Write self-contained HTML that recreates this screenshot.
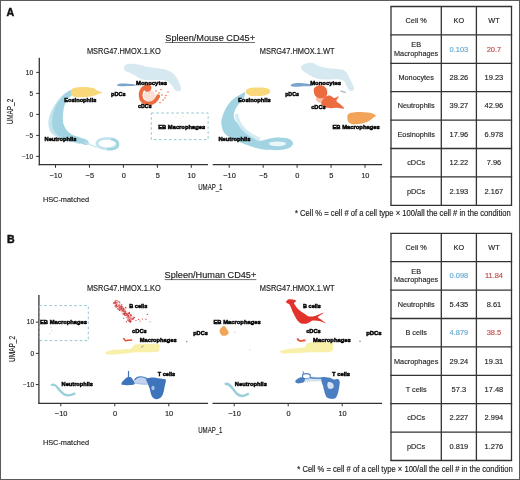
<!DOCTYPE html>
<html><head><meta charset="utf-8"><style>
html,body{margin:0;padding:0;background:#fff;width:520px;height:480px;overflow:hidden}
svg{display:block;will-change:transform}
text{font-family:"Liberation Sans", sans-serif}
</style></head><body>
<svg width="520" height="480" viewBox="0 0 520 480">
<rect width="520" height="480" fill="#fff"/>
<rect x="0.5" y="0.5" width="519" height="479" fill="none" stroke="#5a5a5a" stroke-width="1"/>
<text x="6.6" y="15.8" font-size="10.6" text-anchor="start" fill="#111" font-weight="bold" stroke="#111" stroke-width="0.45">A</text>
<text x="6.9" y="242.8" font-size="10.6" text-anchor="start" fill="#111" font-weight="bold" stroke="#111" stroke-width="0.45">B</text>
<line x1="391" y1="6.5" x2="391" y2="205.29999999999998" stroke="#333" stroke-width="1.3" />
<line x1="441.3" y1="6.5" x2="441.3" y2="205.29999999999998" stroke="#333" stroke-width="1.3" />
<line x1="476.4" y1="6.5" x2="476.4" y2="205.29999999999998" stroke="#333" stroke-width="1.3" />
<line x1="511.5" y1="6.5" x2="511.5" y2="205.29999999999998" stroke="#333" stroke-width="1.3" />
<line x1="390.35" y1="6.5" x2="512.15" y2="6.5" stroke="#333" stroke-width="1.3" />
<line x1="390.35" y1="34.9" x2="512.15" y2="34.9" stroke="#333" stroke-width="1.3" />
<line x1="390.35" y1="63.3" x2="512.15" y2="63.3" stroke="#333" stroke-width="1.3" />
<line x1="390.35" y1="91.69999999999999" x2="512.15" y2="91.69999999999999" stroke="#333" stroke-width="1.3" />
<line x1="390.35" y1="120.1" x2="512.15" y2="120.1" stroke="#333" stroke-width="1.3" />
<line x1="390.35" y1="148.5" x2="512.15" y2="148.5" stroke="#333" stroke-width="1.3" />
<line x1="390.35" y1="176.89999999999998" x2="512.15" y2="176.89999999999998" stroke="#333" stroke-width="1.3" />
<line x1="390.35" y1="205.29999999999998" x2="512.15" y2="205.29999999999998" stroke="#333" stroke-width="1.3" />
<text x="416.15" y="23.2" font-size="7.7" text-anchor="middle" fill="#262626" textLength="21.14" lengthAdjust="spacingAndGlyphs"  stroke="#262626" stroke-width="0.15">Cell %</text>
<text x="458.85" y="23.2" font-size="7.7" text-anchor="middle" fill="#262626" textLength="10.57" lengthAdjust="spacingAndGlyphs"  stroke="#262626" stroke-width="0.15">KO</text>
<text x="493.95" y="23.2" font-size="7.7" text-anchor="middle" fill="#262626" textLength="11.37" lengthAdjust="spacingAndGlyphs"  stroke="#262626" stroke-width="0.15">WT</text>
<text x="416.15" y="46.9" font-size="7.7" text-anchor="middle" fill="#262626" textLength="9.76" lengthAdjust="spacingAndGlyphs"  stroke="#262626" stroke-width="0.15">EB</text>
<text x="416.15" y="55.6" font-size="7.7" text-anchor="middle" fill="#262626" textLength="44.2" lengthAdjust="spacingAndGlyphs"  stroke="#262626" stroke-width="0.15">Macrophages</text>
<text x="458.85" y="51.6" font-size="7.7" text-anchor="middle" fill="#62a8d2" textLength="18.69" lengthAdjust="spacingAndGlyphs"  stroke="#62a8d2" stroke-width="0.15">0.103</text>
<text x="493.95" y="51.6" font-size="7.7" text-anchor="middle" fill="#c24a48" textLength="14.54" lengthAdjust="spacingAndGlyphs"  stroke="#c24a48" stroke-width="0.15">20.7</text>
<text x="416.15" y="80.0" font-size="7.7" text-anchor="middle" fill="#262626" textLength="35.37" lengthAdjust="spacingAndGlyphs"  stroke="#262626" stroke-width="0.15">Monocytes</text>
<text x="458.85" y="80.0" font-size="7.7" text-anchor="middle" fill="#262626" textLength="18.69" lengthAdjust="spacingAndGlyphs"  stroke="#262626" stroke-width="0.15">28.26</text>
<text x="493.95" y="80.0" font-size="7.7" text-anchor="middle" fill="#262626" textLength="18.69" lengthAdjust="spacingAndGlyphs"  stroke="#262626" stroke-width="0.15">19.23</text>
<text x="416.15" y="108.4" font-size="7.7" text-anchor="middle" fill="#262626" textLength="37.0" lengthAdjust="spacingAndGlyphs"  stroke="#262626" stroke-width="0.15">Neutrophils</text>
<text x="458.85" y="108.4" font-size="7.7" text-anchor="middle" fill="#262626" textLength="18.69" lengthAdjust="spacingAndGlyphs"  stroke="#262626" stroke-width="0.15">39.27</text>
<text x="493.95" y="108.4" font-size="7.7" text-anchor="middle" fill="#262626" textLength="18.69" lengthAdjust="spacingAndGlyphs"  stroke="#262626" stroke-width="0.15">42.96</text>
<text x="416.15" y="136.8" font-size="7.7" text-anchor="middle" fill="#262626" textLength="37.41" lengthAdjust="spacingAndGlyphs"  stroke="#262626" stroke-width="0.15">Eosinophils</text>
<text x="458.85" y="136.8" font-size="7.7" text-anchor="middle" fill="#262626" textLength="18.69" lengthAdjust="spacingAndGlyphs"  stroke="#262626" stroke-width="0.15">17.96</text>
<text x="493.95" y="136.8" font-size="7.7" text-anchor="middle" fill="#262626" textLength="18.69" lengthAdjust="spacingAndGlyphs"  stroke="#262626" stroke-width="0.15">6.978</text>
<text x="416.15" y="165.2" font-size="7.7" text-anchor="middle" fill="#262626" textLength="17.88" lengthAdjust="spacingAndGlyphs"  stroke="#262626" stroke-width="0.15">cDCs</text>
<text x="458.85" y="165.2" font-size="7.7" text-anchor="middle" fill="#262626" textLength="18.69" lengthAdjust="spacingAndGlyphs"  stroke="#262626" stroke-width="0.15">12.22</text>
<text x="493.95" y="165.2" font-size="7.7" text-anchor="middle" fill="#262626" textLength="14.54" lengthAdjust="spacingAndGlyphs"  stroke="#262626" stroke-width="0.15">7.96</text>
<text x="416.15" y="193.6" font-size="7.7" text-anchor="middle" fill="#262626" textLength="18.29" lengthAdjust="spacingAndGlyphs"  stroke="#262626" stroke-width="0.15">pDCs</text>
<text x="458.85" y="193.6" font-size="7.7" text-anchor="middle" fill="#262626" textLength="18.69" lengthAdjust="spacingAndGlyphs"  stroke="#262626" stroke-width="0.15">2.193</text>
<text x="493.95" y="193.6" font-size="7.7" text-anchor="middle" fill="#262626" textLength="18.69" lengthAdjust="spacingAndGlyphs"  stroke="#262626" stroke-width="0.15">2.167</text>
<line x1="391" y1="233.3" x2="391" y2="460.5" stroke="#333" stroke-width="1.3" />
<line x1="441.3" y1="233.3" x2="441.3" y2="460.5" stroke="#333" stroke-width="1.3" />
<line x1="476.4" y1="233.3" x2="476.4" y2="460.5" stroke="#333" stroke-width="1.3" />
<line x1="511.5" y1="233.3" x2="511.5" y2="460.5" stroke="#333" stroke-width="1.3" />
<line x1="390.35" y1="233.3" x2="512.15" y2="233.3" stroke="#333" stroke-width="1.3" />
<line x1="390.35" y1="261.7" x2="512.15" y2="261.7" stroke="#333" stroke-width="1.3" />
<line x1="390.35" y1="290.1" x2="512.15" y2="290.1" stroke="#333" stroke-width="1.3" />
<line x1="390.35" y1="318.5" x2="512.15" y2="318.5" stroke="#333" stroke-width="1.3" />
<line x1="390.35" y1="346.9" x2="512.15" y2="346.9" stroke="#333" stroke-width="1.3" />
<line x1="390.35" y1="375.3" x2="512.15" y2="375.3" stroke="#333" stroke-width="1.3" />
<line x1="390.35" y1="403.7" x2="512.15" y2="403.7" stroke="#333" stroke-width="1.3" />
<line x1="390.35" y1="432.1" x2="512.15" y2="432.1" stroke="#333" stroke-width="1.3" />
<line x1="390.35" y1="460.5" x2="512.15" y2="460.5" stroke="#333" stroke-width="1.3" />
<text x="416.15" y="250.0" font-size="7.7" text-anchor="middle" fill="#262626" textLength="21.14" lengthAdjust="spacingAndGlyphs"  stroke="#262626" stroke-width="0.15">Cell %</text>
<text x="458.85" y="250.0" font-size="7.7" text-anchor="middle" fill="#262626" textLength="10.57" lengthAdjust="spacingAndGlyphs"  stroke="#262626" stroke-width="0.15">KO</text>
<text x="493.95" y="250.0" font-size="7.7" text-anchor="middle" fill="#262626" textLength="11.37" lengthAdjust="spacingAndGlyphs"  stroke="#262626" stroke-width="0.15">WT</text>
<text x="416.15" y="273.7" font-size="7.7" text-anchor="middle" fill="#262626" textLength="9.76" lengthAdjust="spacingAndGlyphs"  stroke="#262626" stroke-width="0.15">EB</text>
<text x="416.15" y="282.4" font-size="7.7" text-anchor="middle" fill="#262626" textLength="44.2" lengthAdjust="spacingAndGlyphs"  stroke="#262626" stroke-width="0.15">Macrophages</text>
<text x="458.85" y="278.4" font-size="7.7" text-anchor="middle" fill="#62a8d2" textLength="18.69" lengthAdjust="spacingAndGlyphs"  stroke="#62a8d2" stroke-width="0.15">0.098</text>
<text x="493.95" y="278.4" font-size="7.7" text-anchor="middle" fill="#c24a48" textLength="18.14" lengthAdjust="spacingAndGlyphs"  stroke="#c24a48" stroke-width="0.15">11.84</text>
<text x="416.15" y="306.8" font-size="7.7" text-anchor="middle" fill="#262626" textLength="37.0" lengthAdjust="spacingAndGlyphs"  stroke="#262626" stroke-width="0.15">Neutrophils</text>
<text x="458.85" y="306.8" font-size="7.7" text-anchor="middle" fill="#262626" textLength="18.69" lengthAdjust="spacingAndGlyphs"  stroke="#262626" stroke-width="0.15">5.435</text>
<text x="493.95" y="306.8" font-size="7.7" text-anchor="middle" fill="#262626" textLength="14.54" lengthAdjust="spacingAndGlyphs"  stroke="#262626" stroke-width="0.15">8.61</text>
<text x="416.15" y="335.2" font-size="7.7" text-anchor="middle" fill="#262626" textLength="21.55" lengthAdjust="spacingAndGlyphs"  stroke="#262626" stroke-width="0.15">B cells</text>
<text x="458.85" y="335.2" font-size="7.7" text-anchor="middle" fill="#62a8d2" textLength="18.69" lengthAdjust="spacingAndGlyphs"  stroke="#62a8d2" stroke-width="0.15">4.879</text>
<text x="493.95" y="335.2" font-size="7.7" text-anchor="middle" fill="#c24a48" textLength="14.54" lengthAdjust="spacingAndGlyphs"  stroke="#c24a48" stroke-width="0.15">38.5</text>
<text x="416.15" y="363.6" font-size="7.7" text-anchor="middle" fill="#262626" textLength="44.32" lengthAdjust="spacingAndGlyphs"  stroke="#262626" stroke-width="0.15">Macrophages</text>
<text x="458.85" y="363.6" font-size="7.7" text-anchor="middle" fill="#262626" textLength="18.69" lengthAdjust="spacingAndGlyphs"  stroke="#262626" stroke-width="0.15">29.24</text>
<text x="493.95" y="363.6" font-size="7.7" text-anchor="middle" fill="#262626" textLength="18.69" lengthAdjust="spacingAndGlyphs"  stroke="#262626" stroke-width="0.15">19.31</text>
<text x="416.15" y="392.0" font-size="7.7" text-anchor="middle" fill="#262626" textLength="21.0" lengthAdjust="spacingAndGlyphs"  stroke="#262626" stroke-width="0.15">T cells</text>
<text x="458.85" y="392.0" font-size="7.7" text-anchor="middle" fill="#262626" textLength="14.54" lengthAdjust="spacingAndGlyphs"  stroke="#262626" stroke-width="0.15">57.3</text>
<text x="493.95" y="392.0" font-size="7.7" text-anchor="middle" fill="#262626" textLength="18.69" lengthAdjust="spacingAndGlyphs"  stroke="#262626" stroke-width="0.15">17.48</text>
<text x="416.15" y="420.4" font-size="7.7" text-anchor="middle" fill="#262626" textLength="17.88" lengthAdjust="spacingAndGlyphs"  stroke="#262626" stroke-width="0.15">cDCs</text>
<text x="458.85" y="420.4" font-size="7.7" text-anchor="middle" fill="#262626" textLength="18.69" lengthAdjust="spacingAndGlyphs"  stroke="#262626" stroke-width="0.15">2.227</text>
<text x="493.95" y="420.4" font-size="7.7" text-anchor="middle" fill="#262626" textLength="18.69" lengthAdjust="spacingAndGlyphs"  stroke="#262626" stroke-width="0.15">2.994</text>
<text x="416.15" y="448.8" font-size="7.7" text-anchor="middle" fill="#262626" textLength="18.29" lengthAdjust="spacingAndGlyphs"  stroke="#262626" stroke-width="0.15">pDCs</text>
<text x="458.85" y="448.8" font-size="7.7" text-anchor="middle" fill="#262626" textLength="18.69" lengthAdjust="spacingAndGlyphs"  stroke="#262626" stroke-width="0.15">0.819</text>
<text x="493.95" y="448.8" font-size="7.7" text-anchor="middle" fill="#262626" textLength="18.69" lengthAdjust="spacingAndGlyphs"  stroke="#262626" stroke-width="0.15">1.276</text>
<text x="295.0" y="216.4" font-size="8.2" text-anchor="start" fill="#222" textLength="215.8" lengthAdjust="spacingAndGlyphs"  stroke="#222" stroke-width="0.15">* Cell % = cell # of a cell type × 100/all the cell # in the condition</text>
<text x="297.3" y="471.7" font-size="8.2" text-anchor="start" fill="#222" textLength="215.5" lengthAdjust="spacingAndGlyphs"  stroke="#222" stroke-width="0.15">* Cell % = cell # of a cell type × 100/all the cell # in the condition</text>
<text x="165.3" y="41.3" font-size="9" text-anchor="start" fill="#222" textLength="89.7" lengthAdjust="spacingAndGlyphs"  stroke="#222" stroke-width="0.15">Spleen/Mouse CD45+</text>
<line x1="165.3" y1="42.5" x2="255" y2="42.5" stroke="#333" stroke-width="0.7" />
<text x="164.6" y="278.4" font-size="9" text-anchor="start" fill="#222" textLength="91.7" lengthAdjust="spacingAndGlyphs"  stroke="#222" stroke-width="0.15">Spleen/Human CD45+</text>
<line x1="164.6" y1="279.59999999999997" x2="256.3" y2="279.59999999999997" stroke="#333" stroke-width="0.7" />
<text x="86.9" y="53.8" font-size="8.2" text-anchor="start" fill="#222" textLength="73.8" lengthAdjust="spacingAndGlyphs"  stroke="#222" stroke-width="0.15">MSRG47.HMOX.1.KO</text>
<text x="259.8" y="53.8" font-size="8.2" text-anchor="start" fill="#222" textLength="74.7" lengthAdjust="spacingAndGlyphs"  stroke="#222" stroke-width="0.15">MSRG47.HMOX.1.WT</text>
<text x="86.9" y="290.7" font-size="8.2" text-anchor="start" fill="#222" textLength="73.8" lengthAdjust="spacingAndGlyphs"  stroke="#222" stroke-width="0.15">MSRG47.HMOX.1.KO</text>
<text x="259.8" y="290.7" font-size="8.2" text-anchor="start" fill="#222" textLength="74.7" lengthAdjust="spacingAndGlyphs"  stroke="#222" stroke-width="0.15">MSRG47.HMOX.1.WT</text>
<text x="42.9" y="201.7" font-size="8.0" text-anchor="start" fill="#222" textLength="46.2" lengthAdjust="spacingAndGlyphs"  stroke="#222" stroke-width="0.15">HSC-matched</text>
<text x="42.9" y="444.5" font-size="8.0" text-anchor="start" fill="#222" textLength="46.2" lengthAdjust="spacingAndGlyphs"  stroke="#222" stroke-width="0.15">HSC-matched</text>
<line x1="39.3" y1="57.8" x2="39.3" y2="165.3" stroke="#333" stroke-width="1.3" />
<line x1="38.65" y1="164.7" x2="208" y2="164.7" stroke="#333" stroke-width="1.3" />
<line x1="212.7" y1="164.7" x2="382" y2="164.7" stroke="#333" stroke-width="1.3" />
<line x1="36.2" y1="72.4" x2="39.3" y2="72.4" stroke="#333" stroke-width="1" />
<text x="33.1" y="74.7" font-size="6.5" text-anchor="end" fill="#222"  stroke="#222" stroke-width="0.15">10</text>
<line x1="36.2" y1="93.4" x2="39.3" y2="93.4" stroke="#333" stroke-width="1" />
<text x="33.1" y="95.7" font-size="6.5" text-anchor="end" fill="#222"  stroke="#222" stroke-width="0.15">5</text>
<line x1="36.2" y1="114.4" x2="39.3" y2="114.4" stroke="#333" stroke-width="1" />
<text x="33.1" y="116.7" font-size="6.5" text-anchor="end" fill="#222"  stroke="#222" stroke-width="0.15">0</text>
<line x1="36.2" y1="135.4" x2="39.3" y2="135.4" stroke="#333" stroke-width="1" />
<text x="33.1" y="137.70000000000002" font-size="6.5" text-anchor="end" fill="#222"  stroke="#222" stroke-width="0.15">−5</text>
<line x1="36.2" y1="156.4" x2="39.3" y2="156.4" stroke="#333" stroke-width="1" />
<text x="33.1" y="158.70000000000002" font-size="6.5" text-anchor="end" fill="#222"  stroke="#222" stroke-width="0.15">−10</text>
<line x1="55.5" y1="164.7" x2="55.5" y2="167.8" stroke="#333" stroke-width="1" />
<text x="55.8" y="177.6" font-size="7.4" text-anchor="middle" fill="#222"  stroke="#222" stroke-width="0.15">−10</text>
<line x1="89.45" y1="164.7" x2="89.45" y2="167.8" stroke="#333" stroke-width="1" />
<text x="89.8" y="177.6" font-size="7.4" text-anchor="middle" fill="#222"  stroke="#222" stroke-width="0.15">−5</text>
<line x1="123.4" y1="164.7" x2="123.4" y2="167.8" stroke="#333" stroke-width="1" />
<text x="123.7" y="177.6" font-size="7.4" text-anchor="middle" fill="#222"  stroke="#222" stroke-width="0.15">0</text>
<line x1="157.35000000000002" y1="164.7" x2="157.35000000000002" y2="167.8" stroke="#333" stroke-width="1" />
<text x="157.7" y="177.6" font-size="7.4" text-anchor="middle" fill="#222"  stroke="#222" stroke-width="0.15">5</text>
<line x1="191.3" y1="164.7" x2="191.3" y2="167.8" stroke="#333" stroke-width="1" />
<text x="191.6" y="177.6" font-size="7.4" text-anchor="middle" fill="#222"  stroke="#222" stroke-width="0.15">10</text>
<line x1="229.20000000000002" y1="164.7" x2="229.20000000000002" y2="167.8" stroke="#333" stroke-width="1" />
<text x="229.5" y="177.6" font-size="7.4" text-anchor="middle" fill="#222"  stroke="#222" stroke-width="0.15">−10</text>
<line x1="263.15000000000003" y1="164.7" x2="263.15000000000003" y2="167.8" stroke="#333" stroke-width="1" />
<text x="263.5" y="177.6" font-size="7.4" text-anchor="middle" fill="#222"  stroke="#222" stroke-width="0.15">−5</text>
<line x1="297.1" y1="164.7" x2="297.1" y2="167.8" stroke="#333" stroke-width="1" />
<text x="297.4" y="177.6" font-size="7.4" text-anchor="middle" fill="#222"  stroke="#222" stroke-width="0.15">0</text>
<line x1="331.05" y1="164.7" x2="331.05" y2="167.8" stroke="#333" stroke-width="1" />
<text x="331.4" y="177.6" font-size="7.4" text-anchor="middle" fill="#222"  stroke="#222" stroke-width="0.15">5</text>
<line x1="365.0" y1="164.7" x2="365.0" y2="167.8" stroke="#333" stroke-width="1" />
<text x="365.3" y="177.6" font-size="7.4" text-anchor="middle" fill="#222"  stroke="#222" stroke-width="0.15">10</text>
<text transform="translate(13.4,124.3) rotate(-90)" font-size="8.3" fill="#222" stroke="#222" stroke-width="0.15" textLength="25.5" lengthAdjust="spacingAndGlyphs">UMAP_2</text>
<text x="198.2" y="190.2" font-size="8.2" text-anchor="start" fill="#222" textLength="24.3" lengthAdjust="spacingAndGlyphs" stroke="#222" stroke-width="0.15">UMAP_1</text>
<line x1="38.9" y1="295" x2="38.9" y2="403.8" stroke="#333" stroke-width="1.3" />
<line x1="38.25" y1="403.4" x2="208" y2="403.4" stroke="#333" stroke-width="1.3" />
<line x1="212.5" y1="403.4" x2="382" y2="403.4" stroke="#333" stroke-width="1.3" />
<line x1="35.8" y1="322.1" x2="38.9" y2="322.1" stroke="#333" stroke-width="1" />
<text x="34.0" y="324.3" font-size="6.5" text-anchor="end" fill="#222"  stroke="#222" stroke-width="0.15">10</text>
<line x1="35.8" y1="353.4" x2="38.9" y2="353.4" stroke="#333" stroke-width="1" />
<text x="34.0" y="355.59999999999997" font-size="6.5" text-anchor="end" fill="#222"  stroke="#222" stroke-width="0.15">0</text>
<line x1="35.8" y1="384.6" x2="38.9" y2="384.6" stroke="#333" stroke-width="1" />
<text x="34.0" y="386.8" font-size="6.5" text-anchor="end" fill="#222"  stroke="#222" stroke-width="0.15">−10</text>
<line x1="60.8" y1="403.4" x2="60.8" y2="406.3" stroke="#333" stroke-width="1" />
<text x="61.1" y="415.8" font-size="7.4" text-anchor="middle" fill="#222"  stroke="#222" stroke-width="0.15">−10</text>
<line x1="114.8" y1="403.4" x2="114.8" y2="406.3" stroke="#333" stroke-width="1" />
<text x="115.1" y="415.8" font-size="7.4" text-anchor="middle" fill="#222"  stroke="#222" stroke-width="0.15">0</text>
<line x1="168.8" y1="403.4" x2="168.8" y2="406.3" stroke="#333" stroke-width="1" />
<text x="169.1" y="415.8" font-size="7.4" text-anchor="middle" fill="#222"  stroke="#222" stroke-width="0.15">10</text>
<line x1="234.2" y1="403.4" x2="234.2" y2="406.3" stroke="#333" stroke-width="1" />
<text x="234.5" y="415.8" font-size="7.4" text-anchor="middle" fill="#222"  stroke="#222" stroke-width="0.15">−10</text>
<line x1="288.2" y1="403.4" x2="288.2" y2="406.3" stroke="#333" stroke-width="1" />
<text x="288.5" y="415.8" font-size="7.4" text-anchor="middle" fill="#222"  stroke="#222" stroke-width="0.15">0</text>
<line x1="342.2" y1="403.4" x2="342.2" y2="406.3" stroke="#333" stroke-width="1" />
<text x="342.5" y="415.8" font-size="7.4" text-anchor="middle" fill="#222"  stroke="#222" stroke-width="0.15">10</text>
<text transform="translate(14.8,362.0) rotate(-90)" font-size="8.3" fill="#222" stroke="#222" stroke-width="0.15" textLength="26.100000000000023" lengthAdjust="spacingAndGlyphs">UMAP_2</text>
<text x="198.2" y="433.4" font-size="8.2" text-anchor="start" fill="#222" textLength="24.3" lengthAdjust="spacingAndGlyphs" stroke="#222" stroke-width="0.15">UMAP_1</text>
<path d="M124.2,66.5 C124.5,65.4 125.5,64.8 127.0,64.3 C128.5,63.8 130.8,63.7 133.0,63.8 C135.2,63.9 137.2,64.4 140.0,65.0 C142.8,65.6 146.7,66.7 150.0,67.3 C153.3,67.9 157.2,68.0 160.0,68.5 C162.8,69.0 164.7,69.1 167.0,70.0 C169.3,70.9 171.8,72.3 173.6,74.0 C175.4,75.7 176.8,77.8 178.0,80.0 C179.2,82.2 180.4,85.4 180.7,87.2 C181.0,89.0 180.9,90.5 180.0,91.0 C179.1,91.5 176.8,91.4 175.5,90.5 C174.2,89.6 173.4,87.1 171.9,85.5 C170.4,83.9 168.8,81.9 166.5,81.0 C164.2,80.1 160.8,80.1 158.0,80.0 C155.2,79.9 152.7,80.4 150.0,80.3 C147.3,80.2 144.3,80.2 142.0,79.5 C139.7,78.8 138.0,77.1 136.0,76.0 C134.0,74.9 131.8,73.7 130.0,72.8 C128.2,71.9 126.0,71.8 125.0,70.8 C124.0,69.8 123.9,67.6 124.2,66.5 Z" fill="#d6e8f0" />
<path d="M70.0,90.5 C68.7,90.8 65.9,92.5 64.0,94.0 C62.1,95.5 60.2,97.5 58.5,99.5 C56.8,101.5 55.3,103.8 54.0,106.0 C52.7,108.2 51.4,110.7 50.5,113.0 C49.6,115.3 48.9,117.7 48.6,120.0 C48.3,122.3 48.4,124.9 48.8,127.0 C49.2,129.1 49.8,130.9 51.0,132.5 C52.2,134.1 54.0,135.3 56.0,136.5 C58.0,137.7 60.3,138.9 63.0,139.8 C65.7,140.7 69.2,141.3 72.0,142.0 C74.8,142.7 78.7,144.2 80.0,144.0 C81.3,143.8 81.3,141.8 80.0,141.0 C78.7,140.2 74.7,139.8 72.0,139.0 C69.3,138.2 66.2,137.2 64.0,136.0 C61.8,134.8 60.3,133.7 59.0,132.0 C57.7,130.3 56.6,128.0 56.0,126.0 C55.4,124.0 55.4,122.2 55.5,120.0 C55.6,117.8 55.9,115.3 56.5,113.0 C57.1,110.7 57.9,108.2 59.0,106.0 C60.1,103.8 61.5,101.8 63.0,100.0 C64.5,98.2 66.5,96.3 68.0,95.0 C69.5,93.7 71.7,92.8 72.0,92.0 C72.3,91.2 71.3,90.2 70.0,90.5 Z" fill="#c3e4ee" />
<path d="M72.0,89.8 C71.2,89.4 68.7,91.3 67.0,92.5 C65.3,93.7 63.5,95.3 62.0,97.0 C60.5,98.7 59.2,100.7 58.0,102.5 C56.8,104.3 55.8,106.1 55.0,108.0 C54.2,109.9 53.5,112.0 53.0,114.0 C52.5,116.0 52.3,118.0 52.2,120.0 C52.1,122.0 52.0,124.2 52.3,126.0 C52.6,127.8 53.0,129.4 54.0,131.0 C55.0,132.6 56.3,134.2 58.0,135.5 C59.7,136.8 61.7,137.8 64.0,138.8 C66.3,139.8 69.3,140.6 72.0,141.3 C74.7,142.1 77.7,142.7 80.0,143.3 C82.3,143.9 84.5,145.1 86.0,145.0 C87.5,144.9 89.0,143.9 89.0,143.0 C89.0,142.1 87.5,140.4 86.0,139.5 C84.5,138.6 82.0,138.2 80.0,137.5 C78.0,136.8 75.8,136.3 74.0,135.5 C72.2,134.7 70.4,133.7 69.0,132.5 C67.6,131.3 66.5,130.1 65.5,128.5 C64.5,126.9 63.7,124.9 63.2,123.0 C62.8,121.1 62.8,119.2 62.8,117.0 C62.8,114.8 63.1,112.2 63.5,110.0 C63.9,107.8 64.3,105.8 65.0,104.0 C65.7,102.2 66.3,100.5 67.5,99.0 C68.7,97.5 71.2,96.5 72.0,95.0 C72.8,93.5 72.8,90.2 72.0,89.8 Z" fill="#a2d3e2" />
<ellipse cx="107" cy="143.6" rx="10" ry="5.3" fill="none" stroke="#c3e4ee" stroke-width="2.8"/>
<path d="M111,139 C117,139.5 119,143 117.5,146.5 C115.5,149 111,149.5 107,149" fill="none" stroke="#a2d3e2" stroke-width="2.6"/>
<line x1="84" y1="142" x2="97" y2="147.5" stroke="#c3e4ee" stroke-width="1.3" />
<path d="M71.0,90.5 C71.3,89.2 72.5,88.5 74.0,88.0 C75.5,87.5 77.7,87.3 80.0,87.2 C82.3,87.1 85.7,87.0 88.0,87.2 C90.3,87.4 92.6,87.7 94.0,88.2 C95.4,88.7 95.5,89.7 96.5,90.3 C97.5,90.9 99.0,91.2 100.0,91.6 C101.0,92.0 102.4,92.3 102.3,92.6 C102.2,92.9 100.5,93.1 99.5,93.5 C98.5,93.9 97.9,94.5 96.0,95.0 C94.1,95.5 91.0,96.4 88.0,96.8 C85.0,97.2 80.7,97.4 78.0,97.2 C75.3,97.0 73.2,96.6 72.0,95.5 C70.8,94.4 70.7,91.8 71.0,90.5 Z" fill="#f8d878" />
<path d="M117.0,85.0 C117.2,84.5 119.2,83.8 121.0,83.6 C122.8,83.4 125.7,83.6 128.0,83.8 C130.3,84.0 133.8,84.3 135.0,84.6 C136.2,84.9 136.2,85.6 135.0,85.8 C133.8,86.0 130.5,85.9 128.0,86.0 C125.5,86.1 121.8,86.5 120.0,86.3 C118.2,86.1 116.8,85.5 117.0,85.0 Z" fill="#7ca4cc" />
<ellipse cx="149.5" cy="95.5" rx="6" ry="5.5" fill="#fbe0d6"/>
<path d="M148.5,86.5 C141.5,87 139.5,93 141.3,99 C143.3,103.5 150,105 154.5,101.5 C156.5,100 157.5,98 158.2,96.3" fill="none" stroke="#ec6c40" stroke-width="3.8" stroke-linecap="round"/>
<path d="M145.0,85.0 C146.0,84.4 148.4,84.4 149.5,84.8 C150.6,85.2 151.4,86.5 151.5,87.5 C151.6,88.5 150.9,90.3 150.0,91.0 C149.1,91.7 147.1,91.9 146.0,91.5 C144.9,91.1 143.7,89.6 143.5,88.5 C143.3,87.4 144.0,85.6 145.0,85.0 Z" fill="#ec6c40" />
<circle cx="156" cy="91" r="0.8" fill="#ec6c40"/>
<circle cx="159" cy="93" r="0.8" fill="#ec6c40"/>
<circle cx="162" cy="95" r="0.8" fill="#ec6c40"/>
<circle cx="165" cy="98" r="0.8" fill="#ec6c40"/>
<circle cx="161" cy="89.5" r="0.8" fill="#ec6c40"/>
<circle cx="168" cy="92" r="0.8" fill="#ec6c40"/>
<circle cx="163" cy="100" r="0.8" fill="#ec6c40"/>
<circle cx="160" cy="102.5" r="0.8" fill="#ec6c40"/>
<circle cx="166" cy="95.5" r="0.8" fill="#ec6c40"/>
<rect x="151.3" y="113" width="56.8" height="26.6" fill="none" stroke="#82bcca" stroke-width="0.85" stroke-dasharray="2.6,2.4"/>
<circle cx="176" cy="117" r="0.6" fill="#f2a55a" opacity="0.5"/>
<circle cx="180" cy="118" r="0.6" fill="#f2a55a" opacity="0.5"/>
<circle cx="183" cy="116.5" r="0.6" fill="#f2a55a" opacity="0.5"/>
<path d="M301.4,66.1 C302.1,65.2 303.7,63.9 305.5,63.4 C307.3,62.9 309.9,62.4 312.2,62.8 C314.4,63.2 316.5,65.1 319.0,66.0 C321.5,66.9 324.3,67.6 327.0,68.1 C329.7,68.6 332.3,68.5 335.0,68.8 C337.7,69.1 341.1,69.3 343.1,70.1 C345.1,70.9 346.1,72.0 347.2,73.5 C348.3,75.0 349.0,77.1 349.9,78.9 C350.8,80.7 351.9,82.5 352.6,84.3 C353.3,86.1 354.4,88.5 354.0,89.6 C353.6,90.7 351.1,91.4 349.9,90.8 C348.6,90.2 347.4,87.5 346.5,86.0 C345.6,84.5 345.6,82.6 344.5,81.5 C343.4,80.4 341.9,79.9 340.0,79.5 C338.1,79.1 335.5,79.2 333.0,79.2 C330.5,79.2 327.7,79.6 325.0,79.5 C322.3,79.4 319.5,79.2 317.0,78.5 C314.5,77.8 312.1,76.7 310.0,75.5 C307.9,74.3 305.5,72.6 304.1,71.5 C302.7,70.4 301.8,69.7 301.4,68.8 C300.9,67.9 300.7,67.0 301.4,66.1 Z" fill="#d6e8f0" />
<path d="M340.5,90.8 L345.8,92.6" stroke="#8a9aa8" stroke-width="1.3" opacity="0.7"/>
<path d="M245.0,92.3 C244.4,91.7 241.9,93.7 240.0,94.8 C238.1,95.9 235.7,97.3 233.8,98.8 C231.9,100.3 230.3,101.9 228.8,103.8 C227.3,105.7 226.1,107.9 225.0,110.0 C223.9,112.1 223.1,114.2 222.5,116.3 C221.9,118.4 221.3,120.4 221.3,122.5 C221.3,124.6 221.8,126.9 222.4,128.8 C223.0,130.7 223.7,132.4 225.0,133.8 C226.3,135.2 227.8,136.2 230.0,137.5 C232.2,138.8 235.2,140.2 238.0,141.5 C240.8,142.8 244.0,143.9 247.0,145.0 C250.0,146.1 252.8,147.2 256.0,148.0 C259.2,148.8 262.0,149.5 266.0,149.8 C270.0,150.1 276.2,150.3 280.0,150.0 C283.8,149.7 286.8,149.0 289.0,148.0 C291.2,147.0 292.7,145.3 293.0,144.0 C293.3,142.7 292.3,141.0 291.0,140.0 C289.7,139.0 287.5,138.4 285.0,138.0 C282.5,137.6 278.8,137.3 276.0,137.5 C273.2,137.7 270.3,138.5 268.0,139.0 C265.7,139.5 263.8,140.3 262.0,140.5 C260.2,140.7 259.3,140.9 257.5,140.0 C255.7,139.1 253.1,136.7 251.0,135.0 C248.9,133.3 246.8,131.7 245.0,130.0 C243.2,128.3 241.6,126.5 240.0,125.0 C238.4,123.5 236.5,122.5 235.5,121.0 C234.5,119.5 233.9,117.8 233.8,116.0 C233.7,114.2 234.2,112.0 235.0,110.0 C235.8,108.0 237.4,105.9 238.8,104.0 C240.2,102.1 242.7,100.5 243.7,98.5 C244.7,96.5 245.6,92.9 245.0,92.3 Z" fill="#a2d3e2" />
<ellipse cx="277.5" cy="143.8" rx="8.5" ry="2.4" fill="#fff" opacity="0.8"/>
<path d="M236.5,114 C237,121 241,127 246,131.5 C250,134.5 254,137 260,139.5" fill="none" stroke="#d2eaf2" stroke-width="3.6" opacity="0.9"/>
<path d="M246.0,90.5 C246.5,89.5 248.0,88.5 250.0,88.0 C252.0,87.5 255.3,87.4 258.0,87.4 C260.7,87.4 264.0,87.5 266.0,88.0 C268.0,88.5 269.6,89.5 270.0,90.5 C270.4,91.5 269.8,93.1 268.5,94.0 C267.2,94.9 264.8,95.5 262.0,95.8 C259.2,96.1 254.5,96.3 252.0,96.0 C249.5,95.7 248.0,94.9 247.0,94.0 C246.0,93.1 245.5,91.5 246.0,90.5 Z" fill="#f8d878" />
<path d="M290.5,85.2 C290.7,84.6 292.9,83.6 295.0,83.3 C297.1,83.0 300.2,83.1 303.0,83.3 C305.8,83.5 310.1,84.0 311.5,84.4 C312.9,84.9 313.1,85.7 311.5,86.0 C309.9,86.3 304.9,86.3 302.0,86.4 C299.1,86.5 295.9,87.0 294.0,86.8 C292.1,86.6 290.3,85.8 290.5,85.2 Z" fill="#7ca4cc" />
<path d="M316.0,98.0 C316.7,97.0 320.0,96.2 322.0,96.0 C324.0,95.8 326.7,96.2 328.0,97.0 C329.3,97.8 330.7,100.0 330.0,101.0 C329.3,102.0 326.0,102.8 324.0,103.0 C322.0,103.2 319.3,102.8 318.0,102.0 C316.7,101.2 315.3,99.0 316.0,98.0 Z" fill="#ec6c40" opacity="0.45"/>
<path d="M314.0,88.5 C314.6,87.0 316.5,86.0 318.0,85.5 C319.5,85.0 321.6,85.2 323.0,85.8 C324.4,86.4 325.8,87.6 326.5,89.0 C327.2,90.4 327.5,92.5 327.2,94.0 C326.9,95.5 325.9,97.1 324.5,97.8 C323.1,98.5 320.2,98.5 318.5,98.0 C316.8,97.5 315.2,96.1 314.5,94.5 C313.8,92.9 313.4,90.0 314.0,88.5 Z" fill="#ec6c40" />
<path d="M322.0,101.0 C322.7,99.7 324.2,97.7 325.5,96.8 C326.8,95.9 328.6,95.3 330.0,95.5 C331.4,95.7 332.6,97.9 334.0,98.0 C335.4,98.1 338.3,95.7 338.7,96.2 C339.1,96.7 336.3,99.7 336.5,101.0 C336.7,102.3 338.7,102.7 340.0,104.0 C341.3,105.3 344.7,108.0 344.2,108.6 C343.7,109.2 339.2,107.9 337.0,107.8 C334.8,107.7 333.0,108.3 331.0,108.2 C329.0,108.1 326.6,107.9 325.0,107.3 C323.4,106.7 322.0,105.5 321.5,104.5 C321.0,103.5 321.3,102.3 322.0,101.0 Z" fill="#ec6c40" />
<path d="M347.3,117.0 C347.4,115.6 347.7,114.3 349.0,113.5 C350.3,112.7 352.5,112.4 355.0,112.2 C357.5,112.0 361.3,112.1 364.0,112.2 C366.7,112.3 369.0,112.5 371.0,113.0 C373.0,113.5 375.5,114.7 375.8,115.5 C376.1,116.3 374.3,117.0 373.0,118.0 C371.7,119.0 370.0,120.5 368.0,121.5 C366.0,122.5 363.5,123.3 361.0,123.8 C358.5,124.2 355.1,124.5 353.0,124.2 C350.9,123.9 349.4,123.2 348.5,122.0 C347.6,120.8 347.2,118.4 347.3,117.0 Z" fill="#f2a55a" />
<rect x="39.3" y="305.6" width="49" height="35" fill="none" stroke="#82bcca" stroke-width="0.85" stroke-dasharray="2.6,2.4"/>
<circle cx="51" cy="327.5" r="0.5" fill="#f0b080"/>
<circle cx="52" cy="331" r="0.5" fill="#f0b080"/>
<circle cx="50" cy="333.5" r="0.5" fill="#f0b080"/>
<path d="M114.5,301.5 L132.5,320.5" stroke="#f6d0d0" stroke-width="6" stroke-linecap="butt" opacity="0.6"/>
<circle cx="125.8" cy="313.2" r="0.6" fill="#d04040"/>
<circle cx="133.9" cy="317.1" r="0.6" fill="#d04040"/>
<circle cx="127.5" cy="315.8" r="0.6" fill="#d04040"/>
<circle cx="123.0" cy="310.2" r="0.6" fill="#d04040"/>
<circle cx="133.2" cy="317.8" r="0.6" fill="#d04040"/>
<circle cx="118.9" cy="301.4" r="0.6" fill="#d04040"/>
<circle cx="122.9" cy="310.4" r="0.6" fill="#d04040"/>
<circle cx="123.1" cy="314.0" r="0.6" fill="#d04040"/>
<circle cx="114.5" cy="302.0" r="0.6" fill="#d04040"/>
<circle cx="129.9" cy="319.9" r="0.6" fill="#d04040"/>
<circle cx="127.0" cy="317.3" r="0.6" fill="#d04040"/>
<circle cx="114.9" cy="306.1" r="0.6" fill="#d04040"/>
<circle cx="125.6" cy="313.3" r="0.6" fill="#d04040"/>
<circle cx="130.1" cy="318.1" r="0.6" fill="#d04040"/>
<circle cx="117.4" cy="306.3" r="0.6" fill="#d04040"/>
<circle cx="126.4" cy="321.7" r="0.6" fill="#d04040"/>
<circle cx="118.0" cy="308.6" r="0.6" fill="#d04040"/>
<circle cx="127.1" cy="314.0" r="0.6" fill="#d04040"/>
<circle cx="116.2" cy="307.3" r="0.6" fill="#d04040"/>
<circle cx="132.7" cy="319.1" r="0.6" fill="#d04040"/>
<circle cx="131.0" cy="318.1" r="0.6" fill="#d04040"/>
<circle cx="116.2" cy="305.8" r="0.6" fill="#d04040"/>
<circle cx="116.1" cy="305.3" r="0.6" fill="#d04040"/>
<circle cx="124.9" cy="313.4" r="0.6" fill="#d04040"/>
<circle cx="115.1" cy="301.0" r="0.6" fill="#d04040"/>
<circle cx="121.2" cy="306.3" r="0.6" fill="#d04040"/>
<circle cx="130.4" cy="315.9" r="0.6" fill="#d04040"/>
<circle cx="123.0" cy="310.8" r="0.6" fill="#d04040"/>
<circle cx="123.7" cy="318.2" r="0.6" fill="#d04040"/>
<circle cx="113.6" cy="303.2" r="0.6" fill="#d04040"/>
<circle cx="127.8" cy="315.9" r="0.6" fill="#d04040"/>
<circle cx="128.9" cy="316.3" r="0.6" fill="#d04040"/>
<circle cx="121.3" cy="308.3" r="0.6" fill="#d04040"/>
<circle cx="115.4" cy="302.3" r="0.6" fill="#d04040"/>
<circle cx="116.9" cy="305.8" r="0.6" fill="#d04040"/>
<circle cx="128.4" cy="315.6" r="0.6" fill="#d04040"/>
<circle cx="130.0" cy="320.3" r="0.6" fill="#d04040"/>
<circle cx="121.3" cy="307.8" r="0.6" fill="#d04040"/>
<circle cx="123.8" cy="311.6" r="0.6" fill="#d04040"/>
<circle cx="128.6" cy="315.1" r="0.6" fill="#d04040"/>
<circle cx="128.6" cy="316.9" r="0.6" fill="#d04040"/>
<circle cx="131.8" cy="319.2" r="0.6" fill="#d04040"/>
<circle cx="117.2" cy="302.3" r="0.6" fill="#d04040"/>
<circle cx="129.4" cy="320.5" r="0.6" fill="#d04040"/>
<circle cx="119.1" cy="309.4" r="0.6" fill="#d04040"/>
<circle cx="120.9" cy="306.7" r="0.6" fill="#d04040"/>
<circle cx="120.0" cy="307.8" r="0.6" fill="#d04040"/>
<circle cx="116.7" cy="304.8" r="0.6" fill="#d04040"/>
<circle cx="126.1" cy="315.4" r="0.6" fill="#d04040"/>
<circle cx="115.4" cy="302.4" r="0.6" fill="#d04040"/>
<circle cx="133.6" cy="318.9" r="0.6" fill="#d04040"/>
<circle cx="119.1" cy="305.7" r="0.6" fill="#d04040"/>
<circle cx="124.5" cy="313.4" r="0.6" fill="#d04040"/>
<circle cx="123.4" cy="308.2" r="0.6" fill="#d04040"/>
<circle cx="115.2" cy="302.8" r="0.6" fill="#d04040"/>
<circle cx="123.6" cy="310.7" r="0.6" fill="#d04040"/>
<circle cx="128.1" cy="318.9" r="0.6" fill="#d04040"/>
<circle cx="130.0" cy="321.1" r="0.6" fill="#d04040"/>
<circle cx="125.7" cy="313.6" r="0.6" fill="#d04040"/>
<circle cx="123.0" cy="309.2" r="0.6" fill="#d04040"/>
<circle cx="116.5" cy="304.9" r="0.6" fill="#d04040"/>
<circle cx="123.6" cy="309.2" r="0.6" fill="#d04040"/>
<circle cx="130.2" cy="322.6" r="0.6" fill="#d04040"/>
<circle cx="125.7" cy="307.3" r="0.6" fill="#d04040"/>
<circle cx="123.5" cy="310.6" r="0.6" fill="#d04040"/>
<circle cx="121.3" cy="305.5" r="0.6" fill="#d04040"/>
<circle cx="121.0" cy="309.9" r="0.6" fill="#d04040"/>
<circle cx="131.2" cy="321.3" r="0.6" fill="#d04040"/>
<circle cx="132.9" cy="318.7" r="0.6" fill="#d04040"/>
<circle cx="121.8" cy="306.8" r="0.6" fill="#d04040"/>
<circle cx="116.4" cy="302.9" r="0.6" fill="#d04040"/>
<circle cx="127.7" cy="320.2" r="0.6" fill="#d04040"/>
<circle cx="120.5" cy="308.9" r="0.6" fill="#d04040"/>
<circle cx="129.3" cy="312.5" r="0.6" fill="#d04040"/>
<circle cx="126.4" cy="314.2" r="0.6" fill="#d04040"/>
<circle cx="128.5" cy="313.6" r="0.6" fill="#d04040"/>
<circle cx="121.9" cy="304.6" r="0.6" fill="#d04040"/>
<circle cx="126.7" cy="314.8" r="0.6" fill="#d04040"/>
<circle cx="117.9" cy="308.9" r="0.6" fill="#d04040"/>
<circle cx="125.6" cy="311.9" r="0.6" fill="#d04040"/>
<circle cx="115.7" cy="300.8" r="0.6" fill="#d04040"/>
<circle cx="126.9" cy="314.0" r="0.6" fill="#d04040"/>
<circle cx="122.0" cy="311.1" r="0.6" fill="#d04040"/>
<circle cx="130.7" cy="314.9" r="0.6" fill="#d04040"/>
<circle cx="122.2" cy="306.8" r="0.6" fill="#d04040"/>
<circle cx="131.2" cy="315.6" r="0.6" fill="#d04040"/>
<circle cx="119.3" cy="309.6" r="0.6" fill="#d04040"/>
<circle cx="129.2" cy="312.4" r="0.6" fill="#d04040"/>
<circle cx="130.5" cy="321.6" r="0.6" fill="#d04040"/>
<circle cx="124.5" cy="311.1" r="0.6" fill="#d04040"/>
<circle cx="115.8" cy="306.2" r="0.6" fill="#d04040"/>
<circle cx="125.9" cy="307.9" r="0.6" fill="#d04040"/>
<circle cx="127.4" cy="314.2" r="0.6" fill="#d04040"/>
<circle cx="119.8" cy="302.7" r="0.6" fill="#d04040"/>
<circle cx="130.3" cy="314.6" r="0.6" fill="#d04040"/>
<circle cx="123.1" cy="308.6" r="0.6" fill="#d04040"/>
<circle cx="125.4" cy="313.6" r="0.6" fill="#d04040"/>
<circle cx="129.4" cy="313.4" r="0.6" fill="#d04040"/>
<circle cx="114.2" cy="302.8" r="0.6" fill="#d04040"/>
<circle cx="124.9" cy="315.0" r="0.6" fill="#d04040"/>
<circle cx="119.2" cy="304.9" r="0.6" fill="#d04040"/>
<circle cx="117.0" cy="300.6" r="0.6" fill="#d04040"/>
<circle cx="122.9" cy="310.5" r="0.6" fill="#d04040"/>
<circle cx="116.4" cy="304.5" r="0.6" fill="#d04040"/>
<circle cx="119.8" cy="307.9" r="0.6" fill="#d04040"/>
<circle cx="114.3" cy="303.0" r="0.6" fill="#d04040"/>
<circle cx="124.3" cy="309.0" r="0.6" fill="#d04040"/>
<circle cx="123.8" cy="313.9" r="0.6" fill="#d04040"/>
<circle cx="118.7" cy="306.1" r="0.6" fill="#d04040"/>
<circle cx="121.8" cy="309.2" r="0.6" fill="#d04040"/>
<circle cx="120.1" cy="306.2" r="0.6" fill="#d04040"/>
<circle cx="129.1" cy="317.6" r="0.6" fill="#d04040"/>
<circle cx="119.4" cy="310.4" r="0.6" fill="#d04040"/>
<circle cx="115.8" cy="303.7" r="0.6" fill="#d04040"/>
<circle cx="125.3" cy="310.9" r="0.6" fill="#d04040"/>
<circle cx="130.2" cy="321.2" r="0.6" fill="#d04040"/>
<circle cx="131.4" cy="315.0" r="0.6" fill="#d04040"/>
<circle cx="124.8" cy="314.9" r="0.6" fill="#d04040"/>
<circle cx="120.0" cy="309.6" r="0.6" fill="#d04040"/>
<circle cx="123.2" cy="313.6" r="0.6" fill="#d04040"/>
<circle cx="129.9" cy="321.4" r="0.6" fill="#d04040"/>
<circle cx="121.2" cy="307.8" r="0.6" fill="#d04040"/>
<circle cx="129.9" cy="319.1" r="0.6" fill="#d04040"/>
<circle cx="124.7" cy="312.3" r="0.6" fill="#d04040"/>
<circle cx="124.3" cy="314.4" r="0.6" fill="#d04040"/>
<circle cx="129.0" cy="319.9" r="0.6" fill="#d04040"/>
<circle cx="122.2" cy="307.8" r="0.6" fill="#d04040"/>
<circle cx="119.3" cy="307.4" r="0.6" fill="#d04040"/>
<circle cx="134.6" cy="317.6" r="0.6" fill="#d04040"/>
<circle cx="128.5" cy="321.1" r="0.6" fill="#d04040"/>
<circle cx="138.7" cy="319.4" r="0.6" fill="#cc3535"/>
<circle cx="142.4" cy="319" r="0.6" fill="#cc3535"/>
<circle cx="146" cy="319.2" r="0.6" fill="#cc3535"/>
<circle cx="147.3" cy="314.4" r="0.6" fill="#cc3535"/>
<circle cx="136" cy="320.5" r="0.6" fill="#cc3535"/>
<circle cx="140" cy="321" r="0.6" fill="#cc3535"/>
<circle cx="150" cy="321.7" r="0.7" fill="#b0b0c0"/>
<path d="M123.5,338 C124.5,340.5 126,341.5 128,340.2 L132.2,340" fill="none" stroke="#e8503a" stroke-width="1.6" />
<path d="M105.5,352.0 C106.3,351.3 109.2,350.4 112.0,350.0 C114.8,349.6 118.8,349.6 122.0,349.4 C125.2,349.2 129.0,349.3 131.0,348.6 C133.0,347.9 132.5,345.8 134.0,345.0 C135.5,344.2 137.3,344.1 140.0,343.9 C142.7,343.7 146.9,343.7 150.0,343.7 C153.1,343.7 156.9,343.4 158.5,344.0 C160.1,344.6 159.7,346.2 159.6,347.5 C159.5,348.8 159.9,350.7 158.0,351.5 C156.1,352.3 151.7,352.1 148.0,352.2 C144.3,352.3 139.7,352.0 136.0,352.2 C132.3,352.4 129.5,353.1 126.0,353.5 C122.5,353.9 118.2,354.3 115.0,354.4 C111.8,354.5 108.6,354.6 107.0,354.2 C105.4,353.8 104.7,352.7 105.5,352.0 Z" fill="#f8efa8" />
<path d="M141,347.5 L143.5,345.8" fill="none" stroke="#6070b0" stroke-width="0.7" />
<path d="M127.2,377.3 C128.2,376.9 129.9,377.0 130.8,377.3 C131.7,377.6 131.9,378.4 132.5,379.2 C133.1,380.0 134.0,381.1 134.3,382.0 C134.6,382.9 135.2,384.0 134.1,384.5 C133.0,385.0 130.0,385.1 128.0,385.2 C126.0,385.2 123.0,385.2 122.0,384.8 C121.0,384.4 121.4,383.4 121.8,382.5 C122.2,381.6 123.6,380.4 124.5,379.5 C125.4,378.6 126.2,377.7 127.2,377.3 Z" fill="#3d74bc" />
<line x1="128.5" y1="371" x2="128.5" y2="378" stroke="#3d74bc" stroke-width="1.2" />
<path d="M134,379 C137,376.8 142,376.3 147.5,378.8 L147.5,384.3 C143,384.5 139,384 134.5,383 Z" fill="#a9c1e6" opacity="0.7"/>
<path d="M134.5,380 C137,376.5 142,376 147.5,378.8" fill="none" stroke="#3d74bc" stroke-width="1.1" />
<path d="M134.5,383 C139,384 143,384.5 147.5,384.2" fill="none" stroke="#3d74bc" stroke-width="0.7" stroke-dasharray="1,1"/>
<path d="M146.2,379.0 C146.6,378.2 148.9,378.0 150.0,377.8 C151.1,377.6 151.7,377.5 153.0,377.6 C154.3,377.7 156.5,378.0 158.0,378.2 C159.5,378.4 160.7,378.5 162.0,378.8 C163.3,379.1 165.3,378.8 165.8,380.0 C166.3,381.2 165.2,383.7 164.8,385.8 C164.4,387.9 164.0,390.6 163.4,392.5 C162.8,394.4 162.2,396.2 161.0,397.3 C159.8,398.4 158.0,399.4 156.5,399.2 C155.0,399.0 153.2,398.2 152.0,396.4 C150.8,394.6 150.4,390.8 149.6,388.5 C148.8,386.2 147.9,384.1 147.3,382.5 C146.7,380.9 145.8,379.8 146.2,379.0 Z" fill="#3d74bc" />
<ellipse cx="153" cy="388" rx="1.6" ry="2.2" fill="#a9c2e4"/>
<path d="M51.3,385.8 C52.5,383.6 55,384.6 57.5,387.5 C60,391 63,394.3 66.5,395.2 C70,395.8 73,394.4 75.3,393.4" fill="none" stroke="#9acfda" stroke-width="2.3" />
<circle cx="186.8" cy="341.6" r="0.8" fill="#7a8fb8"/>
<path d="M286.2,301.8 C286.4,301.2 287.2,299.8 288.2,299.4 C289.2,299.0 290.8,299.4 292.0,299.5 C293.2,299.6 294.9,299.8 295.5,300.2 C296.1,300.6 295.9,301.3 295.7,301.8 C295.4,302.3 294.1,302.5 294.0,303.0 C293.9,303.5 294.4,304.1 295.0,305.0 C295.6,305.9 296.5,307.4 297.5,308.5 C298.5,309.6 299.8,310.7 301.0,311.6 C302.2,312.5 303.7,313.2 305.0,314.0 C306.3,314.8 307.3,316.2 309.0,316.5 C310.7,316.8 313.2,316.4 315.0,316.0 C316.8,315.6 318.6,314.5 320.0,314.0 C321.4,313.5 323.8,312.5 323.5,313.0 C323.2,313.5 318.4,315.9 318.0,317.0 C317.6,318.1 319.7,318.4 321.0,319.5 C322.3,320.6 326.1,323.1 325.8,323.3 C325.6,323.6 321.6,321.5 319.5,321.0 C317.4,320.5 314.8,320.2 313.0,320.5 C311.2,320.8 310.2,321.9 309.0,322.5 C307.8,323.1 306.9,323.7 305.6,323.8 C304.3,323.9 302.4,323.9 301.0,323.4 C299.6,322.8 298.5,321.7 297.5,320.5 C296.5,319.3 295.7,317.6 294.8,316.0 C293.9,314.4 293.0,312.6 292.3,311.0 C291.6,309.4 291.1,307.7 290.5,306.5 C289.9,305.3 289.6,304.6 289.0,304.0 C288.4,303.4 287.3,303.4 286.8,303.0 C286.3,302.6 286.0,302.4 286.2,301.8 Z" fill="#e2322c" />
<path d="M297.2,338.5 C298.5,341 301,341.5 303,340.5 L305.6,340.3" fill="none" stroke="#e8503a" stroke-width="1.8" />
<path d="M280.6,351.0 C281.6,350.3 285.1,349.5 288.0,349.0 C290.9,348.5 295.2,348.3 298.0,348.0 C300.8,347.7 303.5,347.8 305.0,347.0 C306.5,346.2 305.5,344.3 307.0,343.5 C308.5,342.7 311.2,342.3 314.0,342.0 C316.8,341.7 320.9,341.8 324.0,341.9 C327.1,342.0 331.0,341.6 332.5,342.5 C334.0,343.4 333.2,345.5 333.0,347.0 C332.8,348.5 333.3,350.6 331.5,351.5 C329.7,352.4 325.6,352.1 322.0,352.2 C318.4,352.3 313.7,352.1 310.0,352.2 C306.3,352.3 303.3,352.8 300.0,353.0 C296.7,353.2 293.0,353.2 290.0,353.3 C287.0,353.4 283.6,353.7 282.0,353.3 C280.4,352.9 279.6,351.7 280.6,351.0 Z" fill="#f8efa8" />
<path d="M222.0,327.0 C222.6,326.6 223.4,325.7 224.0,325.8 C224.6,325.9 225.0,326.4 225.8,327.5 C226.6,328.6 228.4,331.3 228.7,332.5 C229.0,333.7 228.1,333.9 227.5,334.5 C226.9,335.1 226.0,335.7 225.0,335.8 C224.0,335.9 222.4,335.7 221.5,335.0 C220.6,334.3 219.8,332.6 219.6,331.5 C219.4,330.4 220.1,329.2 220.5,328.5 C220.9,327.8 221.4,327.4 222.0,327.0 Z" fill="#f2a55a" />
<circle cx="360" cy="341.3" r="0.8" fill="#6a8fc0"/>
<circle cx="250" cy="349.6" r="0.6" fill="#c0c8d8"/>
<circle cx="234.8" cy="332.3" r="0.8" fill="#f4c0b8"/>
<path d="M295.3,381.0 C295.6,380.2 297.0,379.1 298.0,378.5 C299.0,377.9 300.4,377.2 301.5,377.2 C302.6,377.2 304.4,377.7 304.8,378.5 C305.2,379.3 304.8,381.2 304.0,382.0 C303.2,382.8 301.2,383.1 300.0,383.3 C298.8,383.5 297.3,383.4 296.5,383.0 C295.7,382.6 295.1,381.8 295.3,381.0 Z" fill="#3d74bc" opacity="0.92"/>
<ellipse cx="306.4" cy="376.2" rx="4" ry="2.6" fill="none" stroke="#3d74bc" stroke-width="1.1" opacity="0.9"/>
<line x1="303.2" y1="371.3" x2="303.2" y2="374" stroke="#3d74bc" stroke-width="0.9" />
<path d="M309,376.5 C315,377 320,377 324,377 L323,381 C318,381.5 312,381.5 305,381 Z" fill="#b5cbe9" opacity="0.6"/>
<path d="M310,377.6 C315,378.5 320,378.4 325,377.6" fill="none" stroke="#3d74bc" stroke-width="1.2" />
<path d="M300,381.5 L310,381.8" fill="none" stroke="#3d74bc" stroke-width="0.6" stroke-dasharray="0.8,1.6"/>
<path d="M321.2,379.0 C321.5,377.5 323.5,377.4 325.0,377.2 C326.5,377.0 328.5,377.4 330.0,377.8 C331.5,378.2 332.8,379.3 334.0,379.5 C335.2,379.7 336.6,378.7 337.5,379.0 C338.4,379.3 339.4,380.2 339.7,381.5 C340.0,382.8 339.5,385.1 339.2,387.0 C338.9,388.9 338.6,391.2 338.0,393.0 C337.4,394.8 336.8,397.0 335.5,398.0 C334.2,399.0 332.0,399.0 330.5,398.8 C329.0,398.6 327.5,398.1 326.5,397.0 C325.5,395.9 325.1,393.8 324.5,392.0 C323.9,390.2 323.6,388.2 323.0,386.0 C322.4,383.8 320.9,380.5 321.2,379.0 Z" fill="#3d74bc" opacity="0.92"/>
<path d="M328,382 C331,381.5 333.5,383 333.8,386 C333.5,388.5 331,389.5 328.5,388.5 C327,386.5 327,384 328,382 Z" fill="#d5e2f2"/>
<path d="M224.8,384.4 C228,382.5 230.5,385.5 233.8,390 C236.5,394 240,396.5 243.5,395.8 C246,395.2 247.5,394.3 248.8,393.5" fill="none" stroke="#9acfda" stroke-width="2.4" />
<text x="64.2" y="101.6" font-size="5.9" text-anchor="start" fill="#111" font-weight="bold" textLength="32.2" lengthAdjust="spacingAndGlyphs" stroke="#000" stroke-width="0.5">Eosinophils</text>
<text x="44.5" y="141.4" font-size="5.9" text-anchor="start" fill="#111" font-weight="bold" textLength="31.9" lengthAdjust="spacingAndGlyphs" stroke="#000" stroke-width="0.5">Neutrophils</text>
<text x="111.1" y="96.2" font-size="5.9" text-anchor="start" fill="#111" font-weight="bold" textLength="14.5" lengthAdjust="spacingAndGlyphs" stroke="#000" stroke-width="0.5">pDCs</text>
<text x="136" y="84.7" font-size="5.9" text-anchor="start" fill="#111" font-weight="bold" textLength="31" lengthAdjust="spacingAndGlyphs" stroke="#000" stroke-width="0.5">Monocytes</text>
<text x="138" y="108.4" font-size="5.9" text-anchor="start" fill="#111" font-weight="bold" textLength="13.6" lengthAdjust="spacingAndGlyphs" stroke="#000" stroke-width="0.5">cDCs</text>
<text x="158.2" y="129.1" font-size="5.9" text-anchor="start" fill="#111" font-weight="bold" textLength="47.0" lengthAdjust="spacingAndGlyphs" stroke="#000" stroke-width="0.5">EB Macrophages</text>
<text x="238" y="101.9" font-size="5.9" text-anchor="start" fill="#111" font-weight="bold" textLength="32.8" lengthAdjust="spacingAndGlyphs" stroke="#000" stroke-width="0.5">Eosinophils</text>
<text x="218.4" y="140.9" font-size="5.9" text-anchor="start" fill="#111" font-weight="bold" textLength="32.0" lengthAdjust="spacingAndGlyphs" stroke="#000" stroke-width="0.5">Neutrophils</text>
<text x="285.2" y="96.2" font-size="5.9" text-anchor="start" fill="#111" font-weight="bold" textLength="13.6" lengthAdjust="spacingAndGlyphs" stroke="#000" stroke-width="0.5">pDCs</text>
<text x="310.2" y="85.3" font-size="5.9" text-anchor="start" fill="#111" font-weight="bold" textLength="30.9" lengthAdjust="spacingAndGlyphs" stroke="#000" stroke-width="0.5">Monocytes</text>
<text x="311.2" y="108.6" font-size="5.9" text-anchor="start" fill="#111" font-weight="bold" textLength="14.4" lengthAdjust="spacingAndGlyphs" stroke="#000" stroke-width="0.5">cDCs</text>
<text x="332.4" y="129.3" font-size="5.9" text-anchor="start" fill="#111" font-weight="bold" textLength="47.4" lengthAdjust="spacingAndGlyphs" stroke="#000" stroke-width="0.5">EB Macrophages</text>
<text x="40" y="323.7" font-size="5.9" text-anchor="start" fill="#111" font-weight="bold" textLength="47" lengthAdjust="spacingAndGlyphs" stroke="#000" stroke-width="0.5">EB Macrophages</text>
<text x="129.2" y="308.2" font-size="5.9" text-anchor="start" fill="#111" font-weight="bold" textLength="18.1" lengthAdjust="spacingAndGlyphs" stroke="#000" stroke-width="0.5">B cells</text>
<text x="132.1" y="332.6" font-size="5.9" text-anchor="start" fill="#111" font-weight="bold" textLength="14.6" lengthAdjust="spacingAndGlyphs" stroke="#000" stroke-width="0.5">cDCs</text>
<text x="139.8" y="342.2" font-size="5.9" text-anchor="start" fill="#111" font-weight="bold" textLength="36.8" lengthAdjust="spacingAndGlyphs" stroke="#000" stroke-width="0.5">Macrophages</text>
<text x="193.2" y="334.9" font-size="5.9" text-anchor="start" fill="#111" font-weight="bold" textLength="14.6" lengthAdjust="spacingAndGlyphs" stroke="#000" stroke-width="0.5">pDCs</text>
<text x="157.8" y="375.8" font-size="5.9" text-anchor="start" fill="#111" font-weight="bold" textLength="17.4" lengthAdjust="spacingAndGlyphs" stroke="#000" stroke-width="0.5">T cells</text>
<text x="61.6" y="386.4" font-size="5.9" text-anchor="start" fill="#111" font-weight="bold" textLength="31.4" lengthAdjust="spacingAndGlyphs" stroke="#000" stroke-width="0.5">Neutrophils</text>
<text x="213.4" y="323.6" font-size="5.9" text-anchor="start" fill="#111" font-weight="bold" textLength="47.4" lengthAdjust="spacingAndGlyphs" stroke="#000" stroke-width="0.5">EB Macrophages</text>
<text x="303.1" y="307.6" font-size="5.9" text-anchor="start" fill="#111" font-weight="bold" textLength="17.7" lengthAdjust="spacingAndGlyphs" stroke="#000" stroke-width="0.5">B cells</text>
<text x="306.2" y="332.9" font-size="5.9" text-anchor="start" fill="#111" font-weight="bold" textLength="14.6" lengthAdjust="spacingAndGlyphs" stroke="#000" stroke-width="0.5">cDCs</text>
<text x="313.1" y="342.2" font-size="5.9" text-anchor="start" fill="#111" font-weight="bold" textLength="37.7" lengthAdjust="spacingAndGlyphs" stroke="#000" stroke-width="0.5">Macrophages</text>
<text x="366.2" y="334.9" font-size="5.9" text-anchor="start" fill="#111" font-weight="bold" textLength="15.4" lengthAdjust="spacingAndGlyphs" stroke="#000" stroke-width="0.5">pDCs</text>
<text x="332.1" y="375.8" font-size="5.9" text-anchor="start" fill="#111" font-weight="bold" textLength="18.0" lengthAdjust="spacingAndGlyphs" stroke="#000" stroke-width="0.5">T cells</text>
<text x="234.8" y="386.4" font-size="5.9" text-anchor="start" fill="#111" font-weight="bold" textLength="32.1" lengthAdjust="spacingAndGlyphs" stroke="#000" stroke-width="0.5">Neutrophils</text>
</svg></body></html>
